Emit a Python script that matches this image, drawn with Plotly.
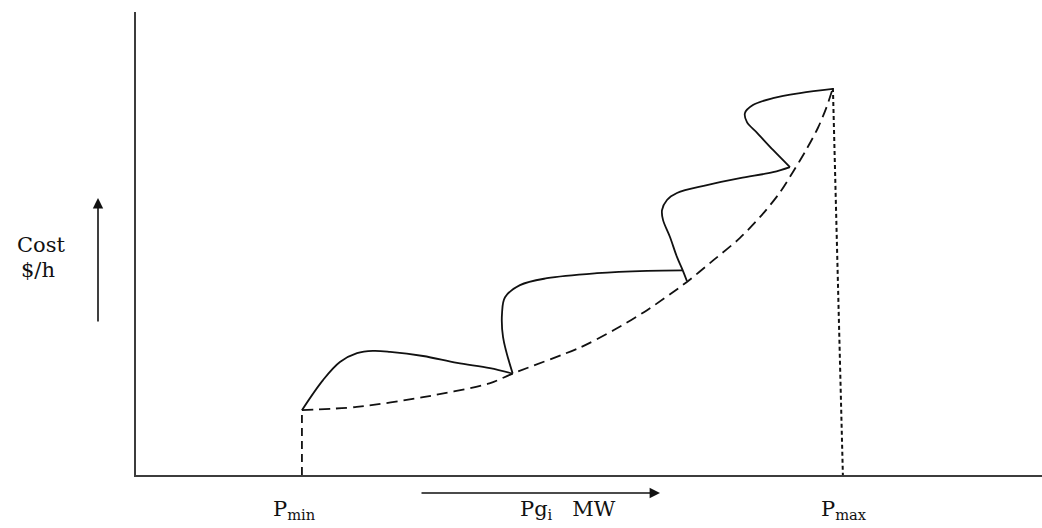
import plotly.graph_objects as go

# Generator limits (MW) and the cost at each limit ($/h, arbitrary scale)
P_MIN, P_MAX = 100, 420
P_MAX_FOOT = 426          # foot of the Pmax marker on the MW axis
COST_AT_PMIN, COST_AT_PMAX = 14.0, 83.6

# Smooth quadratic-like cost curve (dashed)
smooth_p = [100, 133, 173, 213, 227, 268, 288, 308, 332, 348, 364, 378, 388, 396, 404, 411, 416, 420]
smooth_c = [14.0, 14.7, 16.8, 19.8, 21.9, 27.6, 31.3, 35.6, 41.7, 46.4, 51.2, 56.5, 61.0, 65.5, 70.3, 75.0, 79.3, 83.6]

# Valve-point loading ripples (solid), one list per valve opening
valve1_p = [100, 112.7, 122.9, 133.2, 142.8, 153.1, 173.0, 193.5, 213.3, 227]
valve1_c = [14.0, 20.5, 24.4, 26.3, 26.8, 26.6, 25.7, 24.2, 23.1, 21.9]

valve2_p = [227, 221.2, 220.6, 222.4, 231.4, 247.7, 277.8, 308.0, 329.5]
valve2_c = [21.9, 29.8, 35.0, 38.4, 41.0, 42.5, 43.6, 44.1, 44.2]

valve3_p = [332.0, 329.5, 326.0, 321.8, 317.6, 317.0, 320.0, 326.0, 344.1, 364.0, 383.9, 394.1]
valve3_c = [41.9, 44.2, 47.1, 51.4, 55.1, 57.2, 59.4, 60.9, 62.6, 64.1, 65.4, 66.5]

valve4_p = [394.1, 383.9, 374.3, 368.2, 367.0, 371.8, 383.9, 400.2, 420]
valve4_c = [66.5, 70.2, 73.9, 76.2, 78.2, 79.9, 81.4, 82.5, 83.4]

X_RANGE = [0, 546]
Y_RANGE = [0, 100]

W, H = 1042, 528
ML, MR, MT, MB = 136, 0, 12, 53
PLOT_W, PLOT_H = W - ML - MR, H - MT - MB

SERIF = "DejaVu Serif"
INK = "#111111"


def px_x(px):
    return (px - ML) / PLOT_W


def px_y(py):
    return (H - MB - py) / PLOT_H


fig = go.Figure()

# smooth cost curve
fig.add_trace(go.Scatter(
    x=smooth_p, y=smooth_c, mode="lines",
    line=dict(color=INK, width=1.8, dash="11px,6px", shape="spline", smoothing=0.8),
    hoverinfo="skip", showlegend=False))

# valve-point ripples
for vp, vc in [(valve1_p, valve1_c), (valve2_p, valve2_c),
               (valve3_p, valve3_c), (valve4_p, valve4_c)]:
    fig.add_trace(go.Scatter(
        x=vp, y=vc, mode="lines",
        line=dict(color=INK, width=1.8, shape="spline", smoothing=1.0),
        hoverinfo="skip", showlegend=False))

# Pmin marker
fig.add_trace(go.Scatter(
    x=[P_MIN, P_MIN], y=[0, COST_AT_PMIN], mode="lines",
    line=dict(color=INK, width=1.8, dash="8px,5px"),
    hoverinfo="skip", showlegend=False))

# Pmax marker
fig.add_trace(go.Scatter(
    x=[P_MAX, P_MAX_FOOT], y=[COST_AT_PMAX, 0], mode="lines",
    line=dict(color=INK, width=2, dash="4px,3px"),
    hoverinfo="skip", showlegend=False))

annotations = [
    # y-axis title and direction arrow
    dict(x=px_x(41), y=px_y(245), text="Cost"),
    dict(x=px_x(38), y=px_y(270), text="$/h"),
    dict(x=px_x(98), y=px_y(198), ax=0, ay=125, text="", showarrow=True,
         arrowhead=2, arrowsize=1.3, arrowwidth=1.6, arrowcolor=INK),
    # x-axis title and direction arrow
    dict(x=px_x(660), y=px_y(493), ax=-240, ay=0, text="", showarrow=True,
         arrowhead=2, arrowsize=1.3, arrowwidth=1.6, arrowcolor=INK),
    dict(x=px_x(568), y=px_y(510), text="Pg<sub>i</sub>   MW"),
    dict(x=px_x(294), y=px_y(510), text="P<sub>min</sub>"),
    dict(x=px_x(844), y=px_y(510), text="P<sub>max</sub>"),
]
for a in annotations:
    a.setdefault("showarrow", False)
    a["xref"] = "paper"
    a["yref"] = "paper"
    a["xanchor"] = "center"
    a["yanchor"] = "middle"
    a["font"] = dict(family=SERIF, color=INK, size=21)

fig.update_layout(
    width=W, height=H,
    margin=dict(l=ML, r=MR, t=MT, b=MB),
    paper_bgcolor="white", plot_bgcolor="white",
    font=dict(family=SERIF, color=INK, size=21),
    xaxis=dict(range=X_RANGE, showline=True, linecolor="#3c3c3c", linewidth=2,
               showgrid=False, zeroline=False, showticklabels=False, ticks=""),
    yaxis=dict(range=Y_RANGE, showline=True, linecolor="#3c3c3c", linewidth=2,
               showgrid=False, zeroline=False, showticklabels=False, ticks=""),
    annotations=annotations,
    showlegend=False,
)

fig.write_html("out.html")
